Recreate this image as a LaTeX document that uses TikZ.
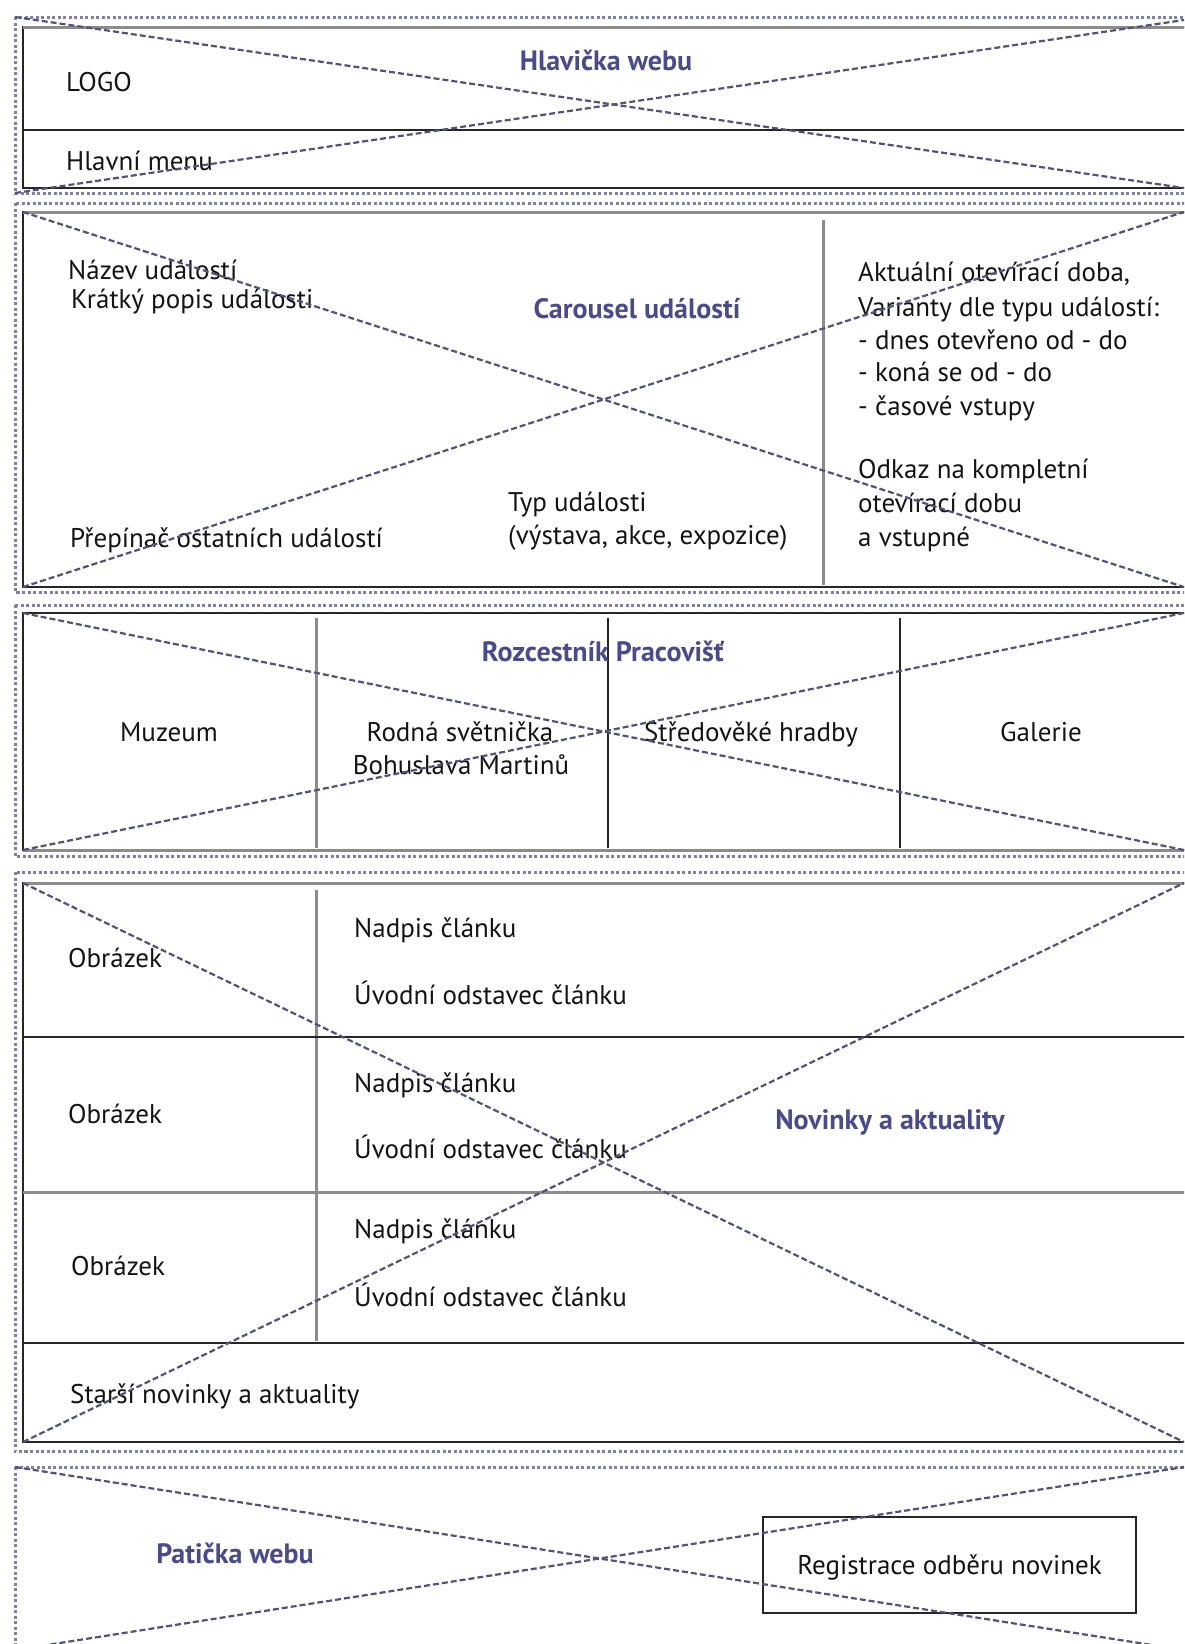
\documentclass[tikz,border=0pt]{standalone}
\usepackage{fontspec}
\setmainfont{PT Sans}
\definecolor{dashc}{HTML}{52527C}
\definecolor{outc}{HTML}{8080B0}
\definecolor{titc}{HTML}{4A4A8E}
\begin{document}
\begin{tikzpicture}[x=1pt,y=-1pt,
  txt/.style={font=\fontsize{27}{32}\selectfont, inner sep=0pt, text=black!92, yshift=-7pt},
  lt/.style={txt, anchor=mid west},
  ct/.style={txt, anchor=mid},
  ttl/.style={font=\fontsize{28}{33}\selectfont\bfseries, text=titc, inner sep=0pt, anchor=mid, yshift=-6pt},
  diag/.style={draw=dashc, line width=2.2pt, dash pattern=on 6pt off 3pt},
  outer/.style={draw=outc, line width=3pt, dash pattern=on 3pt off 2.5pt},
  inner/.style={draw=black!85, line width=1.8pt},
  divg/.style={draw=black!45, line width=3pt},
  divk/.style={draw=black!85, line width=1.6pt},
  regbox/.style={draw=black!85, line width=1.8pt, fill=none}]
\clip (0,0) rectangle (1184,1644);
\fill[white] (0,0) rectangle (1184,1644);

% ---------- outer dashed frames ----------
\draw[outer] (15,17) rectangle (1190,193);
\draw[outer] (15,203) rectangle (1190,592);
\draw[outer] (15,605) rectangle (1190,856);
\draw[outer] (15,872) rectangle (1190,1451);
\draw[outer] (15,1467) rectangle (1190,1660);

% ---------- section 1: header ----------
\draw[inner] (23,27) rectangle (1192,188);
\draw[divg] (23,27) -- (1192,27);
\coordinate (h1l) at (23,130);
\coordinate (h1r) at (1192,130);
\draw[divk] (h1l) -- (h1r);
\node[lt] (logo) at (66,82) {LOGO};
\node[lt] (menu) at (66,161) {Hlavní menu};
\node[ttl] (t1) at (606,62) {Hlavička webu};

% ---------- section 2: carousel ----------
\draw[inner] (23,212) rectangle (1192,587);
\draw[divg] (23,212) -- (1192,212);
\coordinate (v2t) at (823,220);
\coordinate (v2b) at (823,585);
\draw[divg] (v2t) -- (v2b);
\node[lt] (nazev) at (68,270) {Název událostí};
\node[lt] (popis) at (71,299) {Krátký popis události};
\node[ttl] (t2) at (637,310) {Carousel událostí};
\node[lt] (prep) at (70,538) {Přepínač ostatních událostí};
\node[lt] (typ) at (508,502) {Typ události};
\node[lt] (typ2) at (508,535) {(výstava, akce, expozice)};
\node[lt] (r1) at (858,272) {Aktuální otevírací doba,};
\node[lt] (r2) at (858,307) {Varianty dle typu událostí:};
\node[lt] (r3) at (858,340) {- dnes otevřeno od - do};
\node[lt] (r4) at (858,372) {- koná se od - do};
\node[lt] (r5) at (858,406) {- časové vstupy};
\node[lt] (r6) at (858,469) {Odkaz na kompletní};
\node[lt] (r7) at (858,503) {otevírací dobu};
\node[lt] (r8) at (858,537) {a vstupné};

% ---------- section 3: workplaces ----------
\draw[inner] (23,613) rectangle (1192,850);
\draw[divg] (23,850) -- (1192,850);
\coordinate (v3at) at (316,618);
\coordinate (v3ab) at (316,848);
\coordinate (v3bt) at (608,618);
\coordinate (v3bb) at (608,848);
\coordinate (v3ct) at (900,618);
\coordinate (v3cb) at (900,848);
\draw[divg] (v3at) -- (v3ab);
\draw[divk] (v3bt) -- (v3bb);
\draw[divk] (v3ct) -- (v3cb);
\node[ttl] (t3) at (603,653) {Rozcestník Pracovišť};
\node[ct] (muz) at (169,732) {Muzeum};
\node[ct] (rod1) at (460,732) {Rodná světnička};
\node[ct] (rod2) at (461,765) {Bohuslava Martinů};
\node[ct] (hrad) at (751,732) {Středověké hradby};
\node[ct] (gal) at (1041,732) {Galerie};

% ---------- section 4: news ----------
\draw[inner] (23,883) rectangle (1192,1442);
\draw[divg] (23,883) -- (1192,883);
\coordinate (v4t) at (316,890);
\coordinate (v4b) at (316,1341);
\draw[divg] (v4t) -- (v4b);
\coordinate (r41l) at (23,1037);
\coordinate (r41r) at (1192,1037);
\coordinate (r42l) at (23,1192);
\coordinate (r42r) at (1192,1192);
\coordinate (r43l) at (23,1343);
\coordinate (r43r) at (1192,1343);
\draw[divk] (r41l) -- (r41r);
\draw[divg] (r42l) -- (r42r);
\draw[divk] (r43l) -- (r43r);
\node[lt] (ob1) at (68,958) {Obrázek};
\node[lt] (ob2) at (68,1114) {Obrázek};
\node[lt] (ob3) at (71,1266) {Obrázek};
\node[lt] (na1) at (354,928) {Nadpis článku};
\node[lt] (uv1) at (354,995) {Úvodní odstavec článku};
\node[lt] (na2) at (354,1083) {Nadpis článku};
\node[lt] (uv2) at (354,1149) {Úvodní odstavec článku};
\node[lt] (na3) at (354,1229) {Nadpis článku};
\node[lt] (uv3) at (354,1297) {Úvodní odstavec článku};
\node[ttl] (t4) at (890,1121) {Novinky a aktuality};
\node[lt] (star) at (70,1394) {Starší novinky a aktuality};

% ---------- section 5: footer ----------
\node[ttl] (t5) at (235,1555) {Patička webu};
\node[regbox, minimum width=373pt, minimum height=96pt, inner sep=0pt] (reg) at (949.5,1565) {};
\node[ct] (regt) at (reg.center) {Registrace odběru novinek};

% ---------- diagonal crosses ----------
\coordinate (a1) at (15,17);   \coordinate (b1) at (1184,188);
\coordinate (c1) at (15,193);  \coordinate (d1) at (1184,20);
\coordinate (a2) at (23,212);  \coordinate (b2) at (1184,587);
\coordinate (c2) at (23,587);  \coordinate (d2) at (1184,212);
\coordinate (a3) at (23,613);  \coordinate (b3) at (1184,850);
\coordinate (c3) at (23,850);  \coordinate (d3) at (1184,613);
\coordinate (a4) at (23,883);  \coordinate (b4) at (1184,1442);
\coordinate (c4) at (23,1442); \coordinate (d4) at (1184,883);
\coordinate (a5) at (15,1467); \coordinate (b5) at (1184,1650);
\coordinate (c5) at (15,1650); \coordinate (d5) at (1184,1467);
\foreach \i in {1,...,5}{
  \draw[diag] (a\i) -- (b\i);
  \draw[diag] (c\i) -- (d\i);
}
\end{tikzpicture}
\end{document}
